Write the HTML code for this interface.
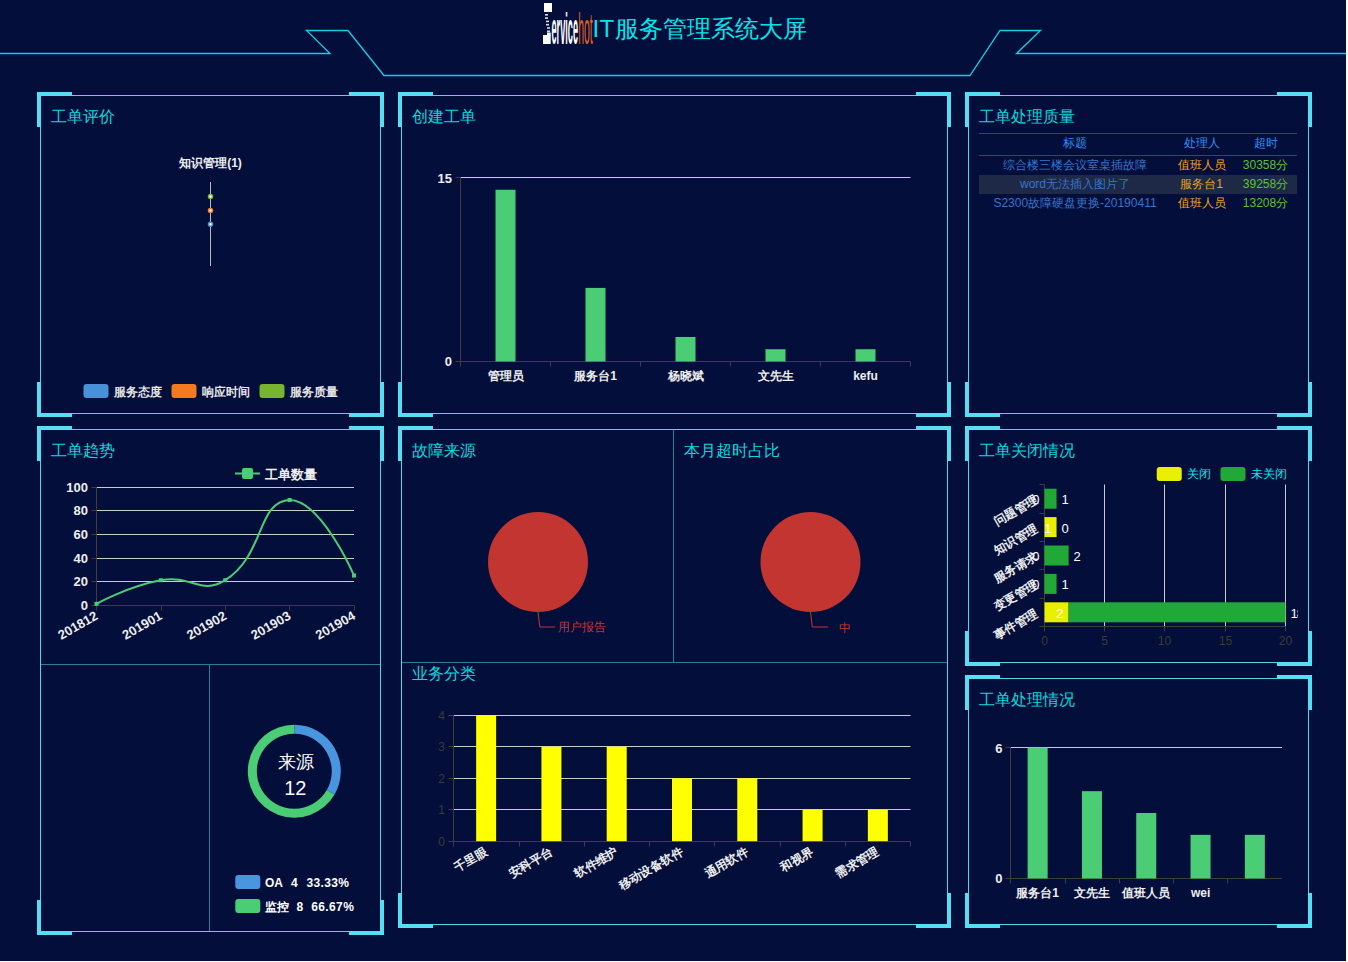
<!DOCTYPE html>
<html><head><meta charset="utf-8">
<style>
html,body{margin:0;padding:0;background:#fff;}
body{width:1348px;height:962px;position:relative;overflow:hidden;font-family:"Liberation Sans", sans-serif;}
#bg{position:absolute;left:0;top:0;width:1346px;height:961px;background:#030e3b;}
.box{position:absolute;border:1px solid #4fd6ee;box-sizing:border-box;}
.c{position:absolute;width:35px;height:35px;box-sizing:border-box;border-color:#55def4;border-style:solid;border-width:0;}
.tl{left:-4px;top:-4px;border-left-width:4px;border-top-width:4px;}
.tr{right:-4px;top:-4px;border-right-width:4px;border-top-width:4px;}
.bl{left:-4px;bottom:-4px;border-left-width:4px;border-bottom-width:4px;}
.br{right:-4px;bottom:-4px;border-right-width:4px;border-bottom-width:4px;}
.t{position:absolute;color:#0cd8de;font-size:16px;line-height:20px;white-space:nowrap;}
.dv{position:absolute;background:#2c7c98;}
svg{position:absolute;left:0;top:0;overflow:visible;}
svg text{font-family:"Liberation Sans", sans-serif;}
.logo{position:absolute;white-space:nowrap;}
</style></head><body>
<div id="bg"></div>
<svg width="1346" height="90">
<path d="M0,53.5 H330 L306.5,30.5 H348 L384,75.5 H970 L1000,30.5 H1040.5 L1016.5,53.5 H1346" fill="none" stroke="#0fd0e4" stroke-width="1.3"/>
</svg>
<div class="box" style="left:40px;top:95px;width:341px;height:319px"><div class="c tl"></div><div class="c tr"></div><div class="c bl"></div><div class="c br"></div></div>
<div class="box" style="left:401px;top:95px;width:547px;height:319px"><div class="c tl"></div><div class="c tr"></div><div class="c bl"></div><div class="c br"></div></div>
<div class="box" style="left:968px;top:95px;width:341px;height:319px"><div class="c tl"></div><div class="c tr"></div><div class="c bl"></div><div class="c br"></div></div>
<div class="box" style="left:40px;top:429px;width:341px;height:503px"><div class="c tl"></div><div class="c tr"></div><div class="c bl"></div><div class="c br"></div></div>
<div class="box" style="left:401px;top:429px;width:547px;height:496px"><div class="c tl"></div><div class="c tr"></div><div class="c bl"></div><div class="c br"></div></div>
<div class="box" style="left:968px;top:429px;width:341px;height:234px"><div class="c tl"></div><div class="c tr"></div><div class="c bl"></div><div class="c br"></div></div>
<div class="box" style="left:968px;top:678px;width:341px;height:247px"><div class="c tl"></div><div class="c tr"></div><div class="c bl"></div><div class="c br"></div></div>
<div class="dv" style="left:41px;top:664px;width:339px;height:1px"></div>
<div class="dv" style="left:209px;top:665px;width:1px;height:266px"></div>
<div class="dv" style="left:673px;top:430px;width:1px;height:232px"></div>
<div class="dv" style="left:402px;top:662px;width:545px;height:1px"></div>
<div class="t" style="left:51px;top:107px">工单评价</div>
<div class="t" style="left:412px;top:107px">创建工单</div>
<div class="t" style="left:979px;top:107px">工单处理质量</div>
<div class="t" style="left:51px;top:441px">工单趋势</div>
<div class="t" style="left:412px;top:441px">故障来源</div>
<div class="t" style="left:684px;top:441px">本月超时占比</div>
<div class="t" style="left:412px;top:664px">业务分类</div>
<div class="t" style="left:979px;top:441px">工单关闭情况</div>
<div class="t" style="left:979px;top:690px">工单处理情况</div>

<div style="position:absolute;left:979px;top:133px;width:318px;height:1px;background:#194c88"></div>
<div style="position:absolute;left:979px;top:155px;width:318px;height:1px;background:#194c88"></div>
<div style="position:absolute;left:979px;top:175px;width:318px;height:19px;background:#1d2947"></div>

<div class="logo" style="left:592.5px;top:14px;font-size:24px;line-height:30px;color:#06e4ea"><span style="letter-spacing:0.4px">IT</span>服务管理系统大屏</div>
<svg width="60" height="50" style="left:0;top:0">
  <rect x="544" y="3" width="8" height="9" fill="#fff"/>
  <rect x="545" y="14" width="3" height="1.6" fill="#ddd"/>
  <rect x="545" y="17.3" width="3" height="1.6" fill="#ddd"/>
  <rect x="546" y="20.6" width="3" height="1.6" fill="#ddd"/>
  <rect x="546" y="23.9" width="3" height="1.6" fill="#ddd"/>
  <rect x="547" y="27.2" width="3" height="1.6" fill="#ddd"/>
  <rect x="547" y="30.5" width="3" height="1.6" fill="#ddd"/>
  <rect x="547" y="32.5" width="3.7" height="3" fill="#fff"/>
  <rect x="543" y="35" width="7.7" height="9" fill="#fff"/>
  <text x="551.5" y="44" font-size="44" font-weight="bold" fill="#fff" textLength="26.5" lengthAdjust="spacingAndGlyphs">ervice</text>
  <text x="578.2" y="44" font-size="44" font-weight="normal" fill="#e0621e" textLength="14.5" lengthAdjust="spacingAndGlyphs">hot</text>
</svg>
<svg width="1348" height="962">
<text x="210.5" y="162.5" font-size="12" fill="#eeeeee" text-anchor="middle" font-weight="bold" dominant-baseline="central" >知识管理(1)</text>
<line x1="210.5" y1="182" x2="210.5" y2="266" stroke="#bbbbbb" stroke-width="1"/>
<circle cx="210.5" cy="196.6" r="2" fill="#ffffff" stroke="#7cb53a" stroke-width="1.5"/>
<circle cx="210.5" cy="210.5" r="2" fill="#ffffff" stroke="#f47a2a" stroke-width="1.5"/>
<circle cx="210.5" cy="224.2" r="2" fill="#ffffff" stroke="#4a90d9" stroke-width="1.5"/>
<rect x="83.5" y="384" width="25" height="14" fill="#4a90d9" rx="3"/>
<text x="113.5" y="391.5" font-size="12" fill="#e6e6e6" text-anchor="start" font-weight="bold" dominant-baseline="central" >服务态度</text>
<rect x="171.5" y="384" width="25" height="14" fill="#f47a20" rx="3"/>
<text x="201.5" y="391.5" font-size="12" fill="#e6e6e6" text-anchor="start" font-weight="bold" dominant-baseline="central" >响应时间</text>
<rect x="259.5" y="384" width="25" height="14" fill="#77b52f" rx="3"/>
<text x="289.5" y="391.5" font-size="12" fill="#e6e6e6" text-anchor="start" font-weight="bold" dominant-baseline="central" >服务质量</text>
<line x1="460.5" y1="177.5" x2="910.5" y2="177.5" stroke="#cccccc" stroke-width="1"/>
<line x1="460.5" y1="177.5" x2="460.5" y2="361.5" stroke="#3f3d35" stroke-width="1"/>
<line x1="455.5" y1="177.5" x2="460.5" y2="177.5" stroke="#3f3d35" stroke-width="1"/>
<line x1="455.5" y1="361.5" x2="460.5" y2="361.5" stroke="#3f3d35" stroke-width="1"/>
<line x1="460.5" y1="361.5" x2="910.5" y2="361.5" stroke="#3f3d35" stroke-width="1"/>
<line x1="460.5" y1="361.5" x2="460.5" y2="366.5" stroke="#3f3d35" stroke-width="1"/>
<line x1="550.5" y1="361.5" x2="550.5" y2="366.5" stroke="#3f3d35" stroke-width="1"/>
<line x1="640.5" y1="361.5" x2="640.5" y2="366.5" stroke="#3f3d35" stroke-width="1"/>
<line x1="730.5" y1="361.5" x2="730.5" y2="366.5" stroke="#3f3d35" stroke-width="1"/>
<line x1="820.5" y1="361.5" x2="820.5" y2="366.5" stroke="#3f3d35" stroke-width="1"/>
<line x1="910.5" y1="361.5" x2="910.5" y2="366.5" stroke="#3f3d35" stroke-width="1"/>
<rect x="495.5" y="189.76666666666668" width="20" height="171.73333333333332" fill="#4bcd76" rx="0"/>
<text x="505.5" y="375.5" font-size="12" fill="#eeeeee" text-anchor="middle" font-weight="bold" dominant-baseline="central" >管理员</text>
<rect x="585.5" y="287.9" width="20" height="73.6" fill="#4bcd76" rx="0"/>
<text x="595.5" y="375.5" font-size="12" fill="#eeeeee" text-anchor="middle" font-weight="bold" dominant-baseline="central" >服务台1</text>
<rect x="675.5" y="336.96666666666664" width="20" height="24.533333333333335" fill="#4bcd76" rx="0"/>
<text x="685.5" y="375.5" font-size="12" fill="#eeeeee" text-anchor="middle" font-weight="bold" dominant-baseline="central" >杨晓斌</text>
<rect x="765.5" y="349.23333333333335" width="20" height="12.266666666666667" fill="#4bcd76" rx="0"/>
<text x="775.5" y="375.5" font-size="12" fill="#eeeeee" text-anchor="middle" font-weight="bold" dominant-baseline="central" >文先生</text>
<rect x="855.5" y="349.23333333333335" width="20" height="12.266666666666667" fill="#4bcd76" rx="0"/>
<text x="865.5" y="375.5" font-size="12" fill="#eeeeee" text-anchor="middle" font-weight="bold" dominant-baseline="central" >kefu</text>
<text x="452" y="178.5" font-size="13" fill="#eeeeee" text-anchor="end" font-weight="bold" dominant-baseline="central" >15</text>
<text x="452" y="361.5" font-size="13" fill="#eeeeee" text-anchor="end" font-weight="bold" dominant-baseline="central" >0</text>
<line x1="235" y1="473.5" x2="260" y2="473.5" stroke="#4bcd76" stroke-width="2"/>
<rect x="242" y="468" width="11" height="11" fill="#4bcd76" rx="2"/>
<text x="265" y="474" font-size="13" fill="#eeeeee" text-anchor="start" font-weight="bold" dominant-baseline="central" >工单数量</text>
<line x1="91.5" y1="605.5" x2="96.5" y2="605.5" stroke="#3f3d35" stroke-width="1"/>
<text x="88" y="605.0" font-size="13" fill="#eeeeee" text-anchor="end" font-weight="bold" dominant-baseline="central" >0</text>
<line x1="96.5" y1="581.5" x2="354" y2="581.5" stroke="#cccccc" stroke-width="1"/>
<line x1="91.5" y1="581.5" x2="96.5" y2="581.5" stroke="#3f3d35" stroke-width="1"/>
<text x="88" y="581.0" font-size="13" fill="#eeeeee" text-anchor="end" font-weight="bold" dominant-baseline="central" >20</text>
<line x1="96.5" y1="558.5" x2="354" y2="558.5" stroke="#cccccc" stroke-width="1"/>
<line x1="91.5" y1="558.5" x2="96.5" y2="558.5" stroke="#3f3d35" stroke-width="1"/>
<text x="88" y="558.0" font-size="13" fill="#eeeeee" text-anchor="end" font-weight="bold" dominant-baseline="central" >40</text>
<line x1="96.5" y1="534.5" x2="354" y2="534.5" stroke="#cccccc" stroke-width="1"/>
<line x1="91.5" y1="534.5" x2="96.5" y2="534.5" stroke="#3f3d35" stroke-width="1"/>
<text x="88" y="534.0" font-size="13" fill="#eeeeee" text-anchor="end" font-weight="bold" dominant-baseline="central" >60</text>
<line x1="96.5" y1="510.5" x2="354" y2="510.5" stroke="#cccccc" stroke-width="1"/>
<line x1="91.5" y1="510.5" x2="96.5" y2="510.5" stroke="#3f3d35" stroke-width="1"/>
<text x="88" y="510.0" font-size="13" fill="#eeeeee" text-anchor="end" font-weight="bold" dominant-baseline="central" >80</text>
<line x1="96.5" y1="487.5" x2="354" y2="487.5" stroke="#cccccc" stroke-width="1"/>
<line x1="91.5" y1="487.5" x2="96.5" y2="487.5" stroke="#3f3d35" stroke-width="1"/>
<text x="88" y="487.0" font-size="13" fill="#eeeeee" text-anchor="end" font-weight="bold" dominant-baseline="central" >100</text>
<line x1="96.5" y1="487.5" x2="96.5" y2="605.5" stroke="#3f3d35" stroke-width="1"/>
<line x1="96.5" y1="605.5" x2="354" y2="605.5" stroke="#3f3d35" stroke-width="1"/>
<line x1="96.5" y1="605.5" x2="96.5" y2="610.5" stroke="#3f3d35" stroke-width="1"/>
<text x="96.5" y="614.5" font-size="13" fill="#eeeeee" text-anchor="end" font-weight="bold" dominant-baseline="central" transform="rotate(-30 96.5 614.5)">201812</text>
<line x1="161.5" y1="605.5" x2="161.5" y2="610.5" stroke="#3f3d35" stroke-width="1"/>
<text x="160.875" y="614.5" font-size="13" fill="#eeeeee" text-anchor="end" font-weight="bold" dominant-baseline="central" transform="rotate(-30 160.875 614.5)">201901</text>
<line x1="225.5" y1="605.5" x2="225.5" y2="610.5" stroke="#3f3d35" stroke-width="1"/>
<text x="225.25" y="614.5" font-size="13" fill="#eeeeee" text-anchor="end" font-weight="bold" dominant-baseline="central" transform="rotate(-30 225.25 614.5)">201902</text>
<line x1="289.5" y1="605.5" x2="289.5" y2="610.5" stroke="#3f3d35" stroke-width="1"/>
<text x="289.625" y="614.5" font-size="13" fill="#eeeeee" text-anchor="end" font-weight="bold" dominant-baseline="central" transform="rotate(-30 289.625 614.5)">201903</text>
<line x1="354.5" y1="605.5" x2="354.5" y2="610.5" stroke="#3f3d35" stroke-width="1"/>
<text x="354.0" y="614.5" font-size="13" fill="#eeeeee" text-anchor="end" font-weight="bold" dominant-baseline="central" transform="rotate(-30 354.0 614.5)">201904</text>
<path d="M96.50,603.82 C96.50,603.82 127.67,586.31 160.88,580.22 C192.05,574.51 200.47,595.66 225.25,580.22 C264.85,555.54 256.86,501.18 289.62,499.98 C321.23,499.98 354.00,575.50 354.00,575.50" fill="none" stroke="#4bcd76" stroke-width="2"/>
<rect x="94.5" y="601.82" width="4" height="4" fill="#4bcd76" rx="0"/>
<rect x="158.875" y="578.22" width="4" height="4" fill="#4bcd76" rx="0"/>
<rect x="223.25" y="578.22" width="4" height="4" fill="#4bcd76" rx="0"/>
<rect x="287.625" y="497.98" width="4" height="4" fill="#4bcd76" rx="0"/>
<rect x="352.0" y="573.5" width="4" height="4" fill="#4bcd76" rx="0"/>
<path d="M294.30,724.70 A46.5,46.5 0 0 1 334.57,794.45 L326.78,789.95 A37.5,37.5 0 0 0 294.30,733.70 Z" fill="#4a95e0"/>
<path d="M334.57,794.45 A46.5,46.5 0 1 1 294.30,724.70 L294.30,733.70 A37.5,37.5 0 1 0 326.78,789.95 Z" fill="#4bcd76"/>
<text x="295.8" y="761.5" font-size="18" fill="#ffffff" text-anchor="middle" font-weight="normal" dominant-baseline="central" >来源</text>
<text x="295.3" y="787.5" font-size="20" fill="#ffffff" text-anchor="middle" font-weight="normal" dominant-baseline="central" >12</text>
<rect x="235.3" y="875" width="25" height="14" fill="#4a95e0" rx="3"/>
<text x="265" y="882.5" font-size="12" fill="#ffffff" text-anchor="start" font-weight="bold" dominant-baseline="central" >OA</text>
<text x="291" y="882.5" font-size="12" fill="#ffffff" text-anchor="start" font-weight="bold" dominant-baseline="central" >4</text>
<text x="306.5" y="882.5" font-size="12" fill="#ffffff" text-anchor="start" font-weight="bold" dominant-baseline="central" textLength="42.5">33.33%</text>
<rect x="235.3" y="899" width="25" height="14" fill="#4bcd76" rx="3"/>
<text x="265" y="906.5" font-size="12" fill="#ffffff" text-anchor="start" font-weight="bold" dominant-baseline="central" >监控</text>
<text x="296.5" y="906.5" font-size="12" fill="#ffffff" text-anchor="start" font-weight="bold" dominant-baseline="central" >8</text>
<text x="311.3" y="906.5" font-size="12" fill="#ffffff" text-anchor="start" font-weight="bold" dominant-baseline="central" textLength="42.5">66.67%</text>
<circle cx="538" cy="562" r="50" fill="#c23531"/>
<polyline points="538,612 539.8,627 555,627" fill="none" stroke="#c23531" stroke-width="1"/>
<text x="558" y="626.8" font-size="12" fill="#c23531" text-anchor="start" font-weight="normal" dominant-baseline="central" >用户报告</text>
<circle cx="810.5" cy="562" r="50" fill="#c23531"/>
<polyline points="810.5,612 812.3,627 828,627" fill="none" stroke="#c23531" stroke-width="1"/>
<text x="839" y="627.6" font-size="12" fill="#c23531" text-anchor="start" font-weight="normal" dominant-baseline="central" >中</text>
<line x1="448.5" y1="841.5" x2="453.5" y2="841.5" stroke="#3f3d35" stroke-width="1"/>
<text x="445" y="842.0" font-size="12" fill="#3d3b32" text-anchor="end" font-weight="normal" dominant-baseline="central" >0</text>
<line x1="453.5" y1="809.5" x2="910.5" y2="809.5" stroke="#cccccc" stroke-width="1"/>
<line x1="448.5" y1="809.5" x2="453.5" y2="809.5" stroke="#3f3d35" stroke-width="1"/>
<text x="445" y="810.0" font-size="12" fill="#3d3b32" text-anchor="end" font-weight="normal" dominant-baseline="central" >1</text>
<line x1="453.5" y1="778.5" x2="910.5" y2="778.5" stroke="#cccccc" stroke-width="1"/>
<line x1="448.5" y1="778.5" x2="453.5" y2="778.5" stroke="#3f3d35" stroke-width="1"/>
<text x="445" y="779.0" font-size="12" fill="#3d3b32" text-anchor="end" font-weight="normal" dominant-baseline="central" >2</text>
<line x1="453.5" y1="746.5" x2="910.5" y2="746.5" stroke="#cccccc" stroke-width="1"/>
<line x1="448.5" y1="746.5" x2="453.5" y2="746.5" stroke="#3f3d35" stroke-width="1"/>
<text x="445" y="747.0" font-size="12" fill="#3d3b32" text-anchor="end" font-weight="normal" dominant-baseline="central" >3</text>
<line x1="453.5" y1="715.5" x2="910.5" y2="715.5" stroke="#cccccc" stroke-width="1"/>
<line x1="448.5" y1="715.5" x2="453.5" y2="715.5" stroke="#3f3d35" stroke-width="1"/>
<text x="445" y="716.0" font-size="12" fill="#3d3b32" text-anchor="end" font-weight="normal" dominant-baseline="central" >4</text>
<line x1="453.5" y1="715.5" x2="453.5" y2="841.5" stroke="#3f3d35" stroke-width="1"/>
<line x1="453.5" y1="841.5" x2="910.5" y2="841.5" stroke="#3f3d35" stroke-width="1"/>
<line x1="453.5" y1="841.5" x2="453.5" y2="846.5" stroke="#3f3d35" stroke-width="1"/>
<line x1="519.5" y1="841.5" x2="519.5" y2="846.5" stroke="#3f3d35" stroke-width="1"/>
<line x1="584.5" y1="841.5" x2="584.5" y2="846.5" stroke="#3f3d35" stroke-width="1"/>
<line x1="649.5" y1="841.5" x2="649.5" y2="846.5" stroke="#3f3d35" stroke-width="1"/>
<line x1="714.5" y1="841.5" x2="714.5" y2="846.5" stroke="#3f3d35" stroke-width="1"/>
<line x1="780.5" y1="841.5" x2="780.5" y2="846.5" stroke="#3f3d35" stroke-width="1"/>
<line x1="845.5" y1="841.5" x2="845.5" y2="846.5" stroke="#3f3d35" stroke-width="1"/>
<line x1="910.5" y1="841.5" x2="910.5" y2="846.5" stroke="#3f3d35" stroke-width="1"/>
<rect x="476.14285714285717" y="715.2" width="20" height="126.0" fill="#ffff00" rx="0"/>
<text x="486.14285714285717" y="850.2" font-size="12" fill="#eeeeee" text-anchor="end" font-weight="bold" dominant-baseline="central" transform="rotate(-30 486.14285714285717 850.2)">千里眼</text>
<rect x="541.4285714285714" y="746.7" width="20" height="94.5" fill="#ffff00" rx="0"/>
<text x="551.4285714285714" y="850.2" font-size="12" fill="#eeeeee" text-anchor="end" font-weight="bold" dominant-baseline="central" transform="rotate(-30 551.4285714285714 850.2)">安科平台</text>
<rect x="606.7142857142858" y="746.7" width="20" height="94.5" fill="#ffff00" rx="0"/>
<text x="616.7142857142858" y="850.2" font-size="12" fill="#eeeeee" text-anchor="end" font-weight="bold" dominant-baseline="central" transform="rotate(-30 616.7142857142858 850.2)">软件维护</text>
<rect x="672.0" y="778.2" width="20" height="63.0" fill="#ffff00" rx="0"/>
<text x="682.0" y="850.2" font-size="12" fill="#eeeeee" text-anchor="end" font-weight="bold" dominant-baseline="central" transform="rotate(-30 682.0 850.2)">移动设备软件</text>
<rect x="737.2857142857143" y="778.2" width="20" height="63.0" fill="#ffff00" rx="0"/>
<text x="747.2857142857143" y="850.2" font-size="12" fill="#eeeeee" text-anchor="end" font-weight="bold" dominant-baseline="central" transform="rotate(-30 747.2857142857143 850.2)">通用软件</text>
<rect x="802.5714285714287" y="809.7" width="20" height="31.5" fill="#ffff00" rx="0"/>
<text x="812.5714285714287" y="850.2" font-size="12" fill="#eeeeee" text-anchor="end" font-weight="bold" dominant-baseline="central" transform="rotate(-30 812.5714285714287 850.2)">和视界</text>
<rect x="867.8571428571429" y="809.7" width="20" height="31.5" fill="#ffff00" rx="0"/>
<text x="877.8571428571429" y="850.2" font-size="12" fill="#eeeeee" text-anchor="end" font-weight="bold" dominant-baseline="central" transform="rotate(-30 877.8571428571429 850.2)">需求管理</text>
<rect x="1156.75" y="467" width="25" height="14" fill="#e8f000" rx="3"/>
<text x="1187" y="473.8" font-size="12" fill="#08eaee" text-anchor="start" font-weight="500" dominant-baseline="central" >关闭</text>
<rect x="1220.5" y="467" width="25" height="14" fill="#22a836" rx="3"/>
<text x="1250.5" y="473.8" font-size="12" fill="#08eaee" text-anchor="start" font-weight="500" dominant-baseline="central" >未关闭</text>
<line x1="1044.5" y1="626.5" x2="1044.5" y2="631.5" stroke="#3f3d35" stroke-width="1"/>
<text x="1044.5" y="640.5" font-size="12" fill="#3d3b32" text-anchor="middle" font-weight="normal" dominant-baseline="central" >0</text>
<line x1="1104.5" y1="484.5" x2="1104.5" y2="626.5" stroke="#cccccc" stroke-width="1"/>
<line x1="1104.5" y1="626.5" x2="1104.5" y2="631.5" stroke="#3f3d35" stroke-width="1"/>
<text x="1104.5" y="640.5" font-size="12" fill="#3d3b32" text-anchor="middle" font-weight="normal" dominant-baseline="central" >5</text>
<line x1="1164.5" y1="484.5" x2="1164.5" y2="626.5" stroke="#cccccc" stroke-width="1"/>
<line x1="1164.5" y1="626.5" x2="1164.5" y2="631.5" stroke="#3f3d35" stroke-width="1"/>
<text x="1164.5" y="640.5" font-size="12" fill="#3d3b32" text-anchor="middle" font-weight="normal" dominant-baseline="central" >10</text>
<line x1="1225.5" y1="484.5" x2="1225.5" y2="626.5" stroke="#cccccc" stroke-width="1"/>
<line x1="1225.5" y1="626.5" x2="1225.5" y2="631.5" stroke="#3f3d35" stroke-width="1"/>
<text x="1225.5" y="640.5" font-size="12" fill="#3d3b32" text-anchor="middle" font-weight="normal" dominant-baseline="central" >15</text>
<line x1="1285.5" y1="484.5" x2="1285.5" y2="626.5" stroke="#cccccc" stroke-width="1"/>
<line x1="1285.5" y1="626.5" x2="1285.5" y2="631.5" stroke="#3f3d35" stroke-width="1"/>
<text x="1285.5" y="640.5" font-size="12" fill="#3d3b32" text-anchor="middle" font-weight="normal" dominant-baseline="central" >20</text>
<line x1="1044.5" y1="484.5" x2="1044.5" y2="626.5" stroke="#3f3d35" stroke-width="1"/>
<line x1="1044.5" y1="626.5" x2="1285.5" y2="626.5" stroke="#3f3d35" stroke-width="1"/>
<clipPath id="cpF"><rect x="968" y="429" width="330" height="234"/></clipPath>
<g clip-path="url(#cpF)">
<line x1="1039.5" y1="626.5" x2="1044.5" y2="626.5" stroke="#3f3d35" stroke-width="1"/>
<line x1="1039.5" y1="598.5" x2="1044.5" y2="598.5" stroke="#3f3d35" stroke-width="1"/>
<line x1="1039.5" y1="569.5" x2="1044.5" y2="569.5" stroke="#3f3d35" stroke-width="1"/>
<line x1="1039.5" y1="541.5" x2="1044.5" y2="541.5" stroke="#3f3d35" stroke-width="1"/>
<line x1="1039.5" y1="513.5" x2="1044.5" y2="513.5" stroke="#3f3d35" stroke-width="1"/>
<line x1="1039.5" y1="484.5" x2="1044.5" y2="484.5" stroke="#3f3d35" stroke-width="1"/>
<rect x="1044.5" y="602.3" width="24.1" height="20" fill="#e8f000" rx="0"/>
<rect x="1068.6" y="602.3" width="216.9" height="20" fill="#22a836" rx="0"/>
<text x="1063.6" y="613.3" font-size="13" fill="#ffffff" text-anchor="end" font-weight="normal" dominant-baseline="central" >2</text>
<text x="1290.5" y="613.3" font-size="13" fill="#ffffff" text-anchor="start" font-weight="normal" dominant-baseline="central" letter-spacing="-1">18</text>
<text x="1036.5" y="612.3" font-size="12" fill="#eeeeee" text-anchor="end" font-weight="bold" dominant-baseline="central" transform="rotate(-30 1036.5 612.3)">事件管理</text>
<rect x="1044.5" y="573.9" width="12.05" height="20" fill="#22a836" rx="0"/>
<text x="1039.5" y="584.9" font-size="13" fill="#ffffff" text-anchor="end" font-weight="normal" dominant-baseline="central" >0</text>
<text x="1061.55" y="584.9" font-size="13" fill="#ffffff" text-anchor="start" font-weight="normal" dominant-baseline="central" letter-spacing="-1">1</text>
<text x="1036.5" y="583.9" font-size="12" fill="#eeeeee" text-anchor="end" font-weight="bold" dominant-baseline="central" transform="rotate(-30 1036.5 583.9)">变更管理</text>
<rect x="1044.5" y="545.5" width="24.1" height="20" fill="#22a836" rx="0"/>
<text x="1039.5" y="556.5" font-size="13" fill="#ffffff" text-anchor="end" font-weight="normal" dominant-baseline="central" >0</text>
<text x="1073.6" y="556.5" font-size="13" fill="#ffffff" text-anchor="start" font-weight="normal" dominant-baseline="central" letter-spacing="-1">2</text>
<text x="1036.5" y="555.5" font-size="12" fill="#eeeeee" text-anchor="end" font-weight="bold" dominant-baseline="central" transform="rotate(-30 1036.5 555.5)">服务请求</text>
<rect x="1044.5" y="517.1" width="12.05" height="20" fill="#e8f000" rx="0"/>
<text x="1051.55" y="528.1" font-size="13" fill="#ffffff" text-anchor="end" font-weight="normal" dominant-baseline="central" >1</text>
<text x="1061.55" y="528.1" font-size="13" fill="#ffffff" text-anchor="start" font-weight="normal" dominant-baseline="central" letter-spacing="-1">0</text>
<text x="1036.5" y="527.1" font-size="12" fill="#eeeeee" text-anchor="end" font-weight="bold" dominant-baseline="central" transform="rotate(-30 1036.5 527.1)">知识管理</text>
<rect x="1044.5" y="488.7" width="12.05" height="20" fill="#22a836" rx="0"/>
<text x="1039.5" y="499.7" font-size="13" fill="#ffffff" text-anchor="end" font-weight="normal" dominant-baseline="central" >0</text>
<text x="1061.55" y="499.7" font-size="13" fill="#ffffff" text-anchor="start" font-weight="normal" dominant-baseline="central" letter-spacing="-1">1</text>
<text x="1036.5" y="498.7" font-size="12" fill="#eeeeee" text-anchor="end" font-weight="bold" dominant-baseline="central" transform="rotate(-30 1036.5 498.7)">问题管理</text>
</g>
<line x1="1010.5" y1="747.5" x2="1282" y2="747.5" stroke="#cccccc" stroke-width="1"/>
<line x1="1010.5" y1="747.5" x2="1010.5" y2="878.5" stroke="#3f3d35" stroke-width="1"/>
<line x1="1005.5" y1="747.5" x2="1010.5" y2="747.5" stroke="#3f3d35" stroke-width="1"/>
<line x1="1005.5" y1="878.5" x2="1010.5" y2="878.5" stroke="#3f3d35" stroke-width="1"/>
<line x1="1010.5" y1="878.5" x2="1282" y2="878.5" stroke="#3f3d35" stroke-width="1"/>
<line x1="1010.5" y1="878.5" x2="1010.5" y2="883.5" stroke="#3f3d35" stroke-width="1"/>
<line x1="1065.5" y1="878.5" x2="1065.5" y2="883.5" stroke="#3f3d35" stroke-width="1"/>
<line x1="1119.5" y1="878.5" x2="1119.5" y2="883.5" stroke="#3f3d35" stroke-width="1"/>
<line x1="1173.5" y1="878.5" x2="1173.5" y2="883.5" stroke="#3f3d35" stroke-width="1"/>
<line x1="1227.5" y1="878.5" x2="1227.5" y2="883.5" stroke="#3f3d35" stroke-width="1"/>
<rect x="1027.65" y="747.5" width="20" height="131.0" fill="#4bcd76" rx="0"/>
<text x="1037.65" y="893" font-size="12" fill="#eeeeee" text-anchor="middle" font-weight="bold" dominant-baseline="central" >服务台1</text>
<rect x="1081.95" y="791.1666666666666" width="20" height="87.33333333333333" fill="#4bcd76" rx="0"/>
<text x="1091.95" y="893" font-size="12" fill="#eeeeee" text-anchor="middle" font-weight="bold" dominant-baseline="central" >文先生</text>
<rect x="1136.25" y="813.0" width="20" height="65.5" fill="#4bcd76" rx="0"/>
<text x="1146.25" y="893" font-size="12" fill="#eeeeee" text-anchor="middle" font-weight="bold" dominant-baseline="central" >值班人员</text>
<rect x="1190.55" y="834.8333333333334" width="20" height="43.666666666666664" fill="#4bcd76" rx="0"/>
<text x="1200.55" y="893" font-size="12" fill="#eeeeee" text-anchor="middle" font-weight="bold" dominant-baseline="central" >wei</text>
<rect x="1244.85" y="834.8333333333334" width="20" height="43.666666666666664" fill="#4bcd76" rx="0"/>
<text x="1002.5" y="748.5" font-size="13" fill="#eeeeee" text-anchor="end" font-weight="bold" dominant-baseline="central" >6</text>
<text x="1002.5" y="878.5" font-size="13" fill="#eeeeee" text-anchor="end" font-weight="bold" dominant-baseline="central" >0</text>
<text x="1075" y="143" font-size="12" fill="#3090f4" text-anchor="middle" font-weight="normal" dominant-baseline="central" >标题</text>
<text x="1201.5" y="143" font-size="12" fill="#3090f4" text-anchor="middle" font-weight="normal" dominant-baseline="central" >处理人</text>
<text x="1265.5" y="143" font-size="12" fill="#3090f4" text-anchor="middle" font-weight="normal" dominant-baseline="central" >超时</text>
<text x="1075" y="164.5" font-size="12" fill="#3a74c8" text-anchor="middle" font-weight="normal" dominant-baseline="central" >综合楼三楼会议室桌插故障</text>
<text x="1201.5" y="164.5" font-size="12" fill="#f0a21e" text-anchor="middle" font-weight="normal" dominant-baseline="central" >值班人员</text>
<text x="1265.5" y="164.5" font-size="12" fill="#5cc22c" text-anchor="middle" font-weight="normal" dominant-baseline="central" >30358分</text>
<text x="1075" y="183.75" font-size="12" fill="#3a74c8" text-anchor="middle" font-weight="normal" dominant-baseline="central" >word无法插入图片了</text>
<text x="1201.5" y="183.75" font-size="12" fill="#f0a21e" text-anchor="middle" font-weight="normal" dominant-baseline="central" >服务台1</text>
<text x="1265.5" y="183.75" font-size="12" fill="#5cc22c" text-anchor="middle" font-weight="normal" dominant-baseline="central" >39258分</text>
<text x="1075" y="202.5" font-size="12" fill="#3a74c8" text-anchor="middle" font-weight="normal" dominant-baseline="central" >S2300故障硬盘更换-20190411</text>
<text x="1201.5" y="202.5" font-size="12" fill="#f0a21e" text-anchor="middle" font-weight="normal" dominant-baseline="central" >值班人员</text>
<text x="1265.5" y="202.5" font-size="12" fill="#5cc22c" text-anchor="middle" font-weight="normal" dominant-baseline="central" >13208分</text>
</svg>
</body></html>
